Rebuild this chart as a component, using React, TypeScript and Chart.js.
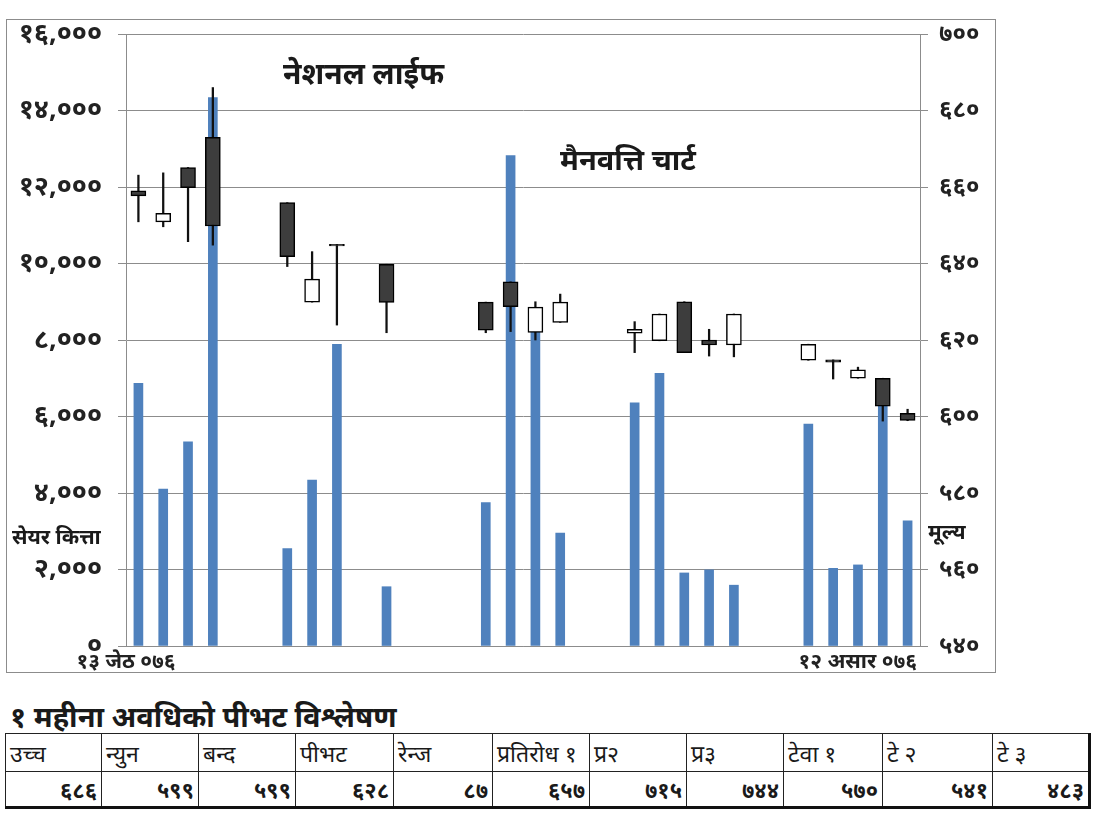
import React, { useEffect, useRef } from 'react';
import { Chart, registerables } from 'chart.js';

Chart.register(...registerables);

// trading days 13 Jestha 076 .. 12 Asar 076 (calendar days, holidays empty)
const dates = [
  '१३ जेठ ०७६', '१४ जेठ ०७६', '१५ जेठ ०७६', '१६ जेठ ०७६', '१७ जेठ ०७६', '१८ जेठ ०७६',
  '१९ जेठ ०७६', '२० जेठ ०७६', '२१ जेठ ०७६', '२२ जेठ ०७६', '२३ जेठ ०७६', '२४ जेठ ०७६',
  '२५ जेठ ०७६', '२६ जेठ ०७६', '२७ जेठ ०७६', '२८ जेठ ०७६', '२९ जेठ ०७६', '३० जेठ ०७६',
  '३१ जेठ ०७६', '३२ जेठ ०७६', '१ असार ०७६', '२ असार ०७६', '३ असार ०७६', '४ असार ०७६',
  '५ असार ०७६', '६ असार ०७६', '७ असार ०७६', '८ असार ०७६', '९ असार ०७६', '१० असार ०७६',
  '११ असार ०७६', '१२ असार ०७६',
];

const volume = [
  6870, 4100, 5340, 14340, null, null, 2550, 4340, 7890, null, 1550, null, null, null, 3750, 12820,
  8200, 2950, null, null, 6360, 7130, 1910, 1990, 1590, null, null, 5800, 2030, 2120, 6300, 3270,
];

const open = [
  659.0, 650.9, 665.1, 673.0, null, null, 655.9, 629.9, 645.0, null, 639.8, null, null, null, 629.9, 635.2,
  622.0, 624.6, null, null, 621.8, 619.8, 630.0, 620.0, 618.7, null, null, 614.7, 614.8, 610.0, 610.0, 600.8,
];
const high = [
  663.1, 663.7, 665.1, 686.0, null, null, 655.9, 643.1, 645.0, null, 639.8, null, null, null, 629.9, 635.2,
  630.0, 632.0, null, null, 624.8, 626.8, 630.0, 622.8, 626.8, null, null, 618.9, 614.8, 612.9, 610.0, 601.9,
];
const low = [
  650.9, 649.6, 645.7, 644.8, null, null, 639.2, 629.9, 623.9, null, 621.9, null, null, null, 621.9, 622.2,
  620.0, 624.6, null, null, 616.7, 619.8, 616.7, 615.8, 615.6, null, null, 614.7, 609.8, 610.0, 598.8, 598.9,
];
const close = [
  657.7, 653.1, 659.8, 649.8, null, null, 641.8, 635.9, 644.6, null, 629.8, null, null, null, 622.6, 628.7,
  628.6, 629.9, null, null, 622.8, 626.8, 616.7, 618.7, 626.8, null, null, 618.9, 614.2, 612.2, 602.7, 599.0,
];

const tableHeads = ['उच्च', 'न्युन', 'बन्द', 'पीभट', 'रेन्ज', 'प्रतिरोध १', 'प्र२', 'प्र३', 'टेवा १', 'टे २', 'टे ३'];
const tableValues = ['६८६', '५९९', '५९९', '६२८', '८७', '६५७', '७१५', '७४४', '५७०', '५४१', '४८३'];
const colWidths = [96, 97, 97, 98, 99, 97, 97, 97, 99, 110, 96];

const nepDigits = '०१२३४५६७८९';
const toNep = (s: string) => s.replace(/[0-9]/g, (d) => nepDigits[+d]);

const GRID = '#8c8c8c';
const FONT = "'Noto Sans', 'DejaVu Sans', sans-serif";

const xLabelPlugin = {
  id: 'xEndLabels',
  afterDraw(chart: any) {
    const { ctx, chartArea } = chart;
    const labels = chart.data.labels as string[];
    ctx.save();
    ctx.font = `bold 21px ${FONT}`;
    ctx.fillStyle = '#222';
    ctx.textBaseline = 'middle';
    ctx.textAlign = 'center';
    ctx.fillText(labels[0], chartArea.left, chartArea.bottom + 16);
    ctx.textAlign = 'right';
    ctx.fillText(labels[labels.length - 1], chartArea.right - 3, chartArea.bottom + 16);
    ctx.restore();
  },
};

// fixed axis widths and no label overhang, so the plot box lands where the original has it
const fitY = (width: number) => (s: any) => {
  s.width = width;
  s.paddingTop = 0;
  s.paddingBottom = 0;
};

const CandleChart = () => {
  const canvasRef = useRef<HTMLCanvasElement>(null);

  useEffect(() => {
    if (!canvasRef.current) return;
    const bodies = open.map((o, i) => (o == null ? null : [o, close[i] as number]));
    const wicks = low.map((l, i) => (l == null ? null : [l, high[i] as number]));
    const bodyColors = open.map((o, i) => (o != null && (close[i] as number) >= o ? '#ffffff' : '#3d3d3d'));

    const chart = new Chart(canvasRef.current, {
      type: 'bar',
      data: {
        labels: dates,
        datasets: [
          {
            label: 'सेयर कित्ता',
            data: volume as any,
            yAxisID: 'y',
            backgroundColor: '#4f81bd',
            barThickness: 9,
            grouped: false,
            order: 3,
          },
          {
            label: 'wick',
            data: wicks as any,
            yAxisID: 'y1',
            backgroundColor: '#111111',
            barThickness: 1.6,
            grouped: false,
            order: 2,
          },
          {
            label: 'मूल्य',
            data: bodies as any,
            yAxisID: 'y1',
            backgroundColor: bodyColors,
            borderColor: '#000000',
            borderWidth: 1.5,
            borderSkipped: false,
            barThickness: 15,
            grouped: false,
            order: 1,
          },
        ],
      },
      options: {
        animation: false,
        responsive: true,
        maintainAspectRatio: false,
        layout: { padding: { top: 14, left: 0, right: 0, bottom: 0 } },
        plugins: {
          legend: { display: false },
          tooltip: { enabled: false },
        },
        scales: {
          x: {
            ticks: { display: false },
            grid: { display: false },
            border: { display: true, color: GRID },
            afterFit: (s: any) => { s.height = 26; s.paddingLeft = 0; s.paddingRight = 0; },
          },
          y: {
            position: 'left',
            min: 0,
            max: 16000,
            ticks: {
              stepSize: 2000,
              padding: 16,
              color: '#222',
              font: { family: FONT, size: 27, weight: 'bold' },
              callback: (v: any) => toNep(Number(v).toLocaleString('en-US')),
            },
            grid: { color: GRID, lineWidth: 1, tickLength: 8 },
            border: { display: true, color: GRID },
            afterFit: fitY(119),
          },
          y1: {
            position: 'right',
            min: 540,
            max: 700,
            ticks: {
              stepSize: 20,
              padding: 11,
              color: '#222',
              font: { family: FONT, size: 24, weight: 'bold' },
              callback: (v: any) => toNep(String(v)),
            },
            grid: { drawOnChartArea: false, color: GRID, tickLength: 8 },
            border: { display: true, color: GRID },
            afterFit: fitY(75),
          },
        },
      },
      plugins: [xLabelPlugin],
    });

    return () => {
      chart.destroy();
    };
  }, []);

  return (
    <div style={{ width: 988, height: 652 }}>
      <canvas ref={canvasRef} />
    </div>
  );
};

const txt = (left: number, top: number, size: number, text: string, bold = true) => (
  <div style={{ position: 'absolute', left, top, fontSize: size, fontWeight: bold ? 'bold' : 'normal', fontFamily: FONT, color: '#1a1a1a', lineHeight: 1, whiteSpace: 'nowrap' }}>
    {text}
  </div>
);

const App = () => {
  const cell: React.CSSProperties = {
    border: '1px solid #222',
    padding: '0 4px',
    fontFamily: FONT,
    fontSize: 23,
    color: '#1a1a1a',
    whiteSpace: 'nowrap',
    overflow: 'hidden',
  };
  return (
    <div style={{ position: 'absolute', left: 0, top: 0, width: 1100, height: 830, background: '#fff' }}>
      <div style={{ position: 'absolute', left: 6, top: 19, width: 990, height: 654, border: `1px solid ${GRID}`, boxSizing: 'border-box' }}>
        <CandleChart />
      </div>
      {txt(283, 58, 30, 'नेशनल लाईफ')}
      {txt(560, 144, 29, 'मैनवत्ति चार्ट')}
      {txt(12, 526, 21, 'सेयर कित्ता')}
      {txt(928, 521, 21, 'मूल्य')}
      {txt(10, 701, 29, '१ महीना अवधिको पीभट विश्लेषण')}
      <table style={{ position: 'absolute', left: 5, top: 733, borderCollapse: 'collapse', tableLayout: 'fixed', borderBottom: '3px solid #111', borderRight: '3px solid #111' }}>
        <tbody>
          <tr style={{ height: 38 }}>
            {tableHeads.map((h, i) => (
              <td key={h} style={{ ...cell, width: colWidths[i] - 9, textAlign: 'left' }}>{h}</td>
            ))}
          </tr>
          <tr style={{ height: 36 }}>
            {tableValues.map((v, i) => (
              <td key={i} style={{ ...cell, width: colWidths[i] - 9, textAlign: 'right', fontWeight: 'bold', fontSize: 22 }}>{v}</td>
            ))}
          </tr>
        </tbody>
      </table>
    </div>
  );
};

export default App;
